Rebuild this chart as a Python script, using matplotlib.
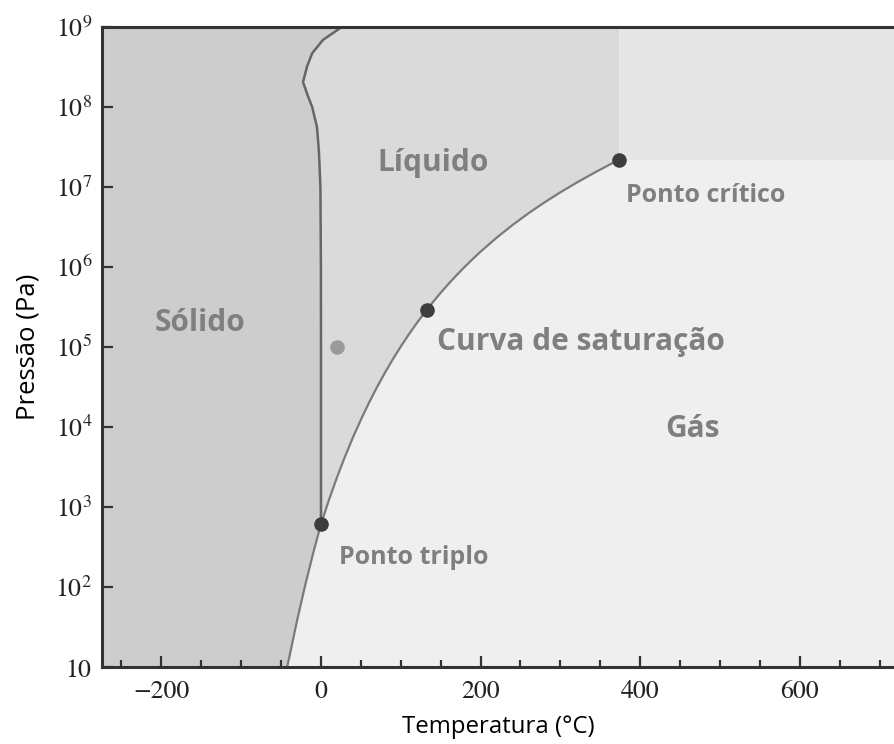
import matplotlib
matplotlib.use("Agg")
import matplotlib.pyplot as plt
from matplotlib.ticker import MultipleLocator, NullLocator

# --- dados do diagrama de fases da água (T em °C, P em Pa) ---
# curva de saturação (líquido-vapor), do ponto triplo ao ponto crítico
temp_sat = [0.01, 10, 20, 30, 40, 50, 60, 70, 80, 90, 100, 110, 120, 130, 140,
            150, 160, 170, 180, 190, 200, 220, 240, 260, 280, 300, 320, 340, 360, 374]
pres_sat = [611.7, 1228, 2339, 4247, 7385, 12352, 19946, 31201, 47414, 70182,
            101418, 143380, 198670, 270280, 361540, 476160, 618230, 792180,
            1002800, 1255200, 1554900, 2319600, 3346900, 4692300, 6416600,
            8587900, 11284000, 14594000, 18666000, 22064000]

# curva de sublimação (sólido-vapor), de baixo até o ponto triplo
temp_sub = [-42.5, -40, -30, -20, -10, 0.01]
pres_sub = [10, 12.8, 38, 103, 260, 611.7]

# curva de fusão (sólido-líquido), do ponto triplo até o topo
temp_fus = [0.01, 0.0, -0.1, -0.7, -2.5, -5, -11, -16.7, -22.5, -17.5, -11, 2.5, 15, 26]
pres_fus = [611.7, 1e5, 1e6, 1e7, 2.7e7, 5.6e7, 1e8, 1.4e8, 2.05e8, 3.2e8, 4.7e8,
            6.9e8, 8.4e8, 1e9]

ponto_triplo = (0.01, 611.7)
ponto_critico = (374, 22064000)
ponto_curva = (133, 2.9e5)
ponto_ambiente = (20, 1e5)

yticks = [1e1, 1e2, 1e3, 1e4, 1e5, 1e6, 1e7, 1e8, 1e9]
ylabels = ['$10$'] + ['$10^{%d}$' % k for k in range(2, 10)]
xticks = [-200, 0, 200, 400, 600]
xlabels = ['\u2212200', '0', '200', '400', '600']

plt.rcParams['mathtext.fontset'] = 'stix'

fig = plt.figure(figsize=(8.95, 7.44), dpi=100)
ax = fig.add_axes([102 / 895, 77 / 744, 1 - 102 / 895, 640 / 744])
ax.set_yscale('log')
ax.set_xlim(-274.4, 719.3)
ax.set_ylim(10, 1e9)

# regiões (gás no fundo)
ax.set_facecolor('#efefef')
xs = [-400] + temp_sub + temp_fus[1:] + [-400]
ys = [1] + pres_sub + pres_fus[1:] + [1e10]
ax.fill(xs, ys, color='#cdcdcd', lw=0, zorder=1)
xs = temp_fus + [ponto_critico[0]] + temp_sat[::-1]
ys = pres_fus + [1e10] + pres_sat[::-1]
ax.fill(xs, ys, color='#dadada', lw=0, zorder=1)
ax.fill([ponto_critico[0], 900, 900, ponto_critico[0]],
        [ponto_critico[1], ponto_critico[1], 1e10, 1e10], color='#e6e6e6', lw=0, zorder=1)

# curvas
ax.plot(temp_sat, pres_sat, color='#7a7a7a', lw=1.6, zorder=3)
ax.plot(temp_sub, pres_sub, color='#7a7a7a', lw=1.6, zorder=3)
ax.plot(temp_fus, pres_fus, color='#666666', lw=1.8, zorder=3)

# pontos
for p in [ponto_triplo, ponto_critico, ponto_curva]:
    ax.plot(p[0], p[1], 'o', color='#3d3d3d', ms=10.5, mew=0, zorder=5)
ax.plot(ponto_ambiente[0], ponto_ambiente[1], 'o', color='#9a9a9a', ms=10.5, mew=0, zorder=5)

# textos
cor = '#7f7f7f'
fonte = ['Open Sans', 'DejaVu Sans']
grande = 21.5
pequeno = 18
ax.text(-152, 2e5, 'Sólido', color=cor, fontsize=grande, fontweight='bold', family=fonte,
        ha='center', va='center', zorder=6)
ax.text(141, 2.0e7, 'Líquido', color=cor, fontsize=grande, fontweight='bold', family=fonte,
        ha='center', va='center', zorder=6)
ax.text(146, 1.15e5, 'Curva de saturação', color=cor, fontsize=grande, fontweight='bold',
        family=fonte, ha='left', va='center', zorder=6)
ax.text(465, 9.5e3, 'Gás', color=cor, fontsize=grande, fontweight='bold', family=fonte,
        ha='center', va='center', zorder=6)
ax.text(382, 7.8e6, 'Ponto crítico', color=cor, fontsize=pequeno, fontweight='bold',
        family=fonte, ha='left', va='center', zorder=6)
ax.text(22.5, 234, 'Ponto triplo', color=cor, fontsize=pequeno, fontweight='bold',
        family=fonte, ha='left', va='center', zorder=6)

# eixos
ax.set_yticks(yticks)
ax.set_yticklabels(ylabels)
ax.yaxis.set_minor_locator(NullLocator())
ax.set_xticks(xticks)
ax.set_xticklabels(xlabels, family='STIXGeneral')
ax.xaxis.set_minor_locator(MultipleLocator(50))
ax.tick_params(which='both', direction='in', color='#333333', width=1.6, labelsize=18.5,
               labelcolor='#222222')
ax.tick_params(which='major', length=8)
ax.tick_params(which='minor', length=5)
ax.tick_params(axis='y', pad=7)
ax.tick_params(axis='x', pad=9)
for s in ['left', 'bottom', 'top']:
    ax.spines[s].set_color('#333333')
    ax.spines[s].set_linewidth(2.2)
    ax.spines[s].set_zorder(7)
ax.spines['right'].set_visible(False)

ax.set_xlabel('Temperatura (°C)', fontsize=17.3, family=fonte, labelpad=8)
ax.set_ylabel('Pressão (Pa)', fontsize=18.5, family=fonte, labelpad=11)

fig.savefig('out.png', dpi=100)
